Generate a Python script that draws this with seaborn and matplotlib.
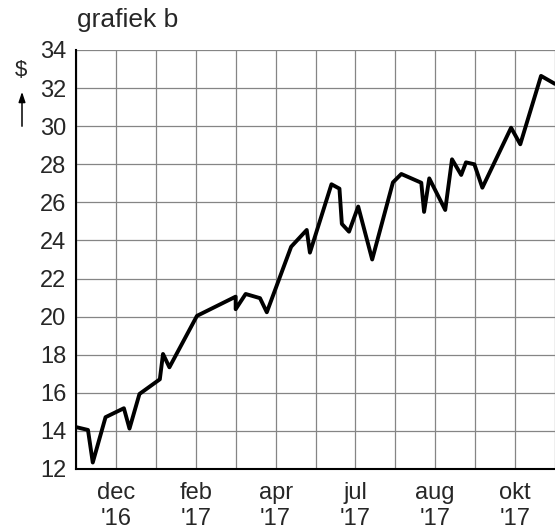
import numpy as np
import pandas as pd
import seaborn as sns
import matplotlib.pyplot as plt

# time in grid units (one vertical gridline = 1 unit), price in $
t = [0.0, 0.3, 0.42, 0.74, 1.2, 1.34, 1.59, 2.1, 2.18, 2.34, 3.03,
     4.0, 4.0, 4.25, 4.61, 4.78, 5.39, 5.78, 5.86, 6.4, 6.6, 6.66,
     6.84, 7.07, 7.42, 7.94, 8.15, 8.65, 8.72, 8.85, 9.25, 9.42,
     9.65, 9.77, 9.98, 10.18, 10.9, 11.13, 11.65, 12.0]
prijs = [14.2, 14.05, 12.34, 14.72, 15.19, 14.12, 15.94, 16.71, 18.04, 17.34, 20.04,
         21.05, 20.39, 21.19, 20.97, 20.23, 23.67, 24.55, 23.36, 26.95, 26.72, 24.87,
         24.46, 25.78, 23.0, 27.05, 27.49, 27.03, 25.5, 27.26, 25.6, 28.26,
         27.44, 28.1, 28.0, 26.77, 29.92, 29.05, 32.64, 32.22]

tick_pos = [1, 3, 5, 7, 9, 11]
tick_labels = ["dec\n'16", "feb\n'17", "apr\n'17", "jul\n'17", "aug\n'17", "okt\n'17"]

df = pd.DataFrame({"t": t, "prijs": prijs})

sns.set_style("white")
plt.rcParams['font.family'] = ['Liberation Sans', 'DejaVu Sans']

fig = plt.figure(figsize=(5.55, 5.32), dpi=100)
ax = fig.add_axes([76/555, 1 - 469/532, (555 - 76)/555, (469 - 50)/532])

sns.lineplot(data=df, x="t", y="prijs", ax=ax, color="black", linewidth=2.8,
             sort=False, estimator=None, zorder=3)

ax.set_xlim(0, 12)
ax.set_ylim(12, 34)
ax.set_xticks(range(13))
ax.set_xticklabels([tick_labels[tick_pos.index(i)] if i in tick_pos else "" for i in range(13)],
                   fontsize=17, linespacing=1.25)
ax.set_yticks(range(12, 35, 2))
ax.set_yticklabels([str(v) for v in range(12, 35, 2)], fontsize=17)
ax.tick_params(length=0)
ax.tick_params(axis="y", pad=7)
ax.tick_params(axis="x", pad=9.5)
ax.grid(True, color="#858585", linewidth=0.9)
ax.set_axisbelow(True)
ax.set_xlabel("")
ax.set_ylabel("")

for s in ["top", "right"]:
    ax.spines[s].set_visible(False)
for s in ["left", "bottom"]:
    ax.spines[s].set_color("black")
    ax.spines[s].set_linewidth(1.5)

fig.text(77/555, 1 - 20/532, "grafiek b", fontsize=19, ha="left", va="center")
fig.text(21/555, 1 - 71/532, "$", fontsize=16, ha="center", va="center")
ax.annotate("", xy=(22/555, 1 - 89/532), xytext=(22/555, 1 - 129/532),
            xycoords="figure fraction", textcoords="figure fraction",
            arrowprops=dict(arrowstyle="-|>,head_width=0.2,head_length=0.6",
                            color="black", lw=1.1))

fig.savefig("out.png", dpi=100)
